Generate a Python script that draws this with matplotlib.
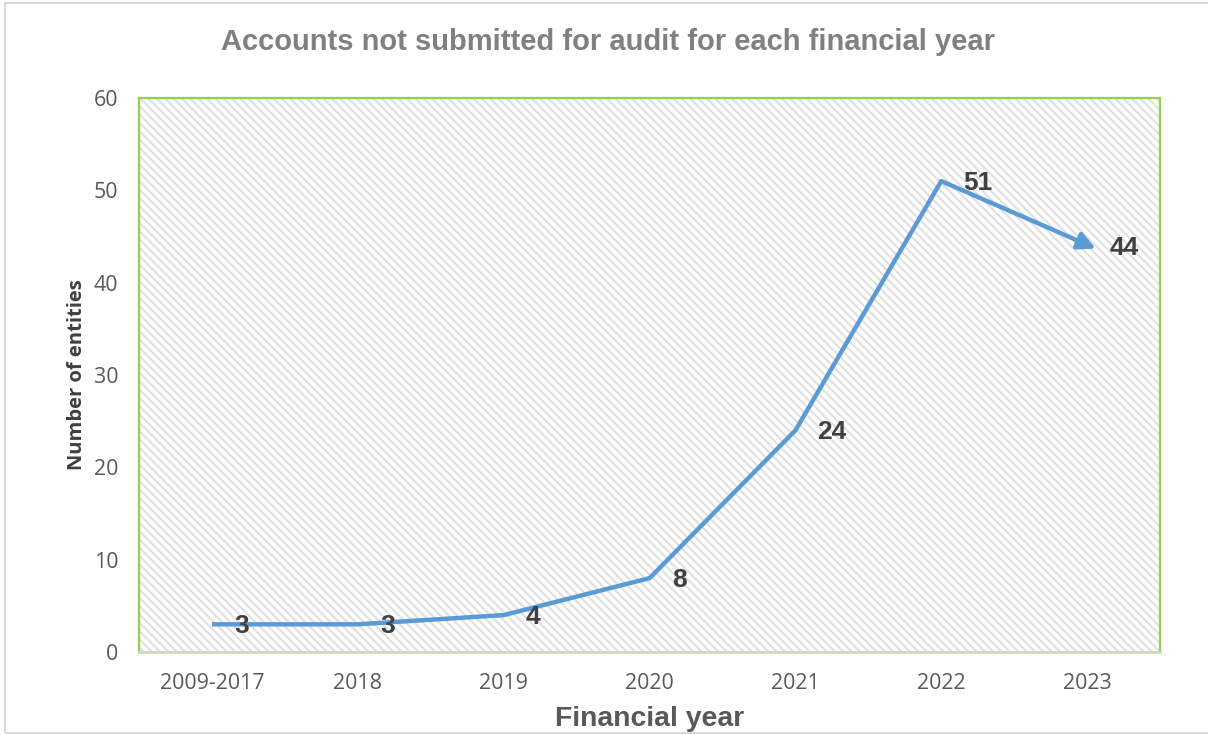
import matplotlib

matplotlib.use("Agg")

import matplotlib.pyplot as plt
from matplotlib.patches import Rectangle

YEARS = ["2009-2017", "2018", "2019", "2020", "2021", "2022", "2023"]
ENTITIES = [3, 3, 4, 8, 24, 51, 44]

LINE_COLOR = "#5B9BD5"
GREEN = "#92D050"
TEXT_GRAY = "#595959"


def main() -> None:
    plt.rcParams["hatch.linewidth"] = 1.5

    fig = plt.figure(figsize=(12.08, 7.35), dpi=100)
    ax = fig.add_axes([0.1151, 0.1129, 0.8452, 0.7538])

    # figure frame
    fig.patches.append(
        Rectangle((5 / 1208, 2 / 735), 1.2, 730 / 735, transform=fig.transFigure,
                  facecolor="none", edgecolor="#d9d9d9", linewidth=1.5, zorder=-5)
    )

    # hatched plot area
    ax.patch.set_facecolor("white")
    ax.add_patch(
        Rectangle((0, 0), 1, 1, transform=ax.transAxes, facecolor="white",
                  edgecolor="#e0e0e0", linewidth=0, hatch="\\\\\\\\", zorder=0)
    )

    x = list(range(len(YEARS)))
    ax.plot(x[:-1], ENTITIES[:-1], color=LINE_COLOR, linewidth=3.2,
            solid_capstyle="butt", solid_joinstyle="round", zorder=3)
    ax.annotate("", xy=(x[-1] + 0.06, ENTITIES[-1] - 0.3), xytext=(x[-2], ENTITIES[-2]),
                arrowprops=dict(arrowstyle="-|>", color=LINE_COLOR, lw=3.2,
                                mutation_scale=26, shrinkA=0, shrinkB=0),
                zorder=3)

    for xi, val in zip(x, ENTITIES):
        ax.annotate(str(val), xy=(xi, val), xytext=(16, -1.5),
                    textcoords="offset points", ha="left", va="center",
                    fontsize=19, fontweight="bold", color="#404040",
                    family="Liberation Sans", zorder=4)

    ax.set_xlim(-0.5, len(YEARS) - 0.5)
    ax.set_ylim(0, 60)
    ax.set_yticks(range(0, 61, 10))
    ax.set_xticks(x)
    ax.set_xticklabels(YEARS)
    ax.tick_params(axis="both", length=0, labelsize=15.4, labelcolor=TEXT_GRAY)
    ax.tick_params(axis="x", pad=15)
    ax.tick_params(axis="y", pad=15)
    for lab in ax.get_xticklabels() + ax.get_yticklabels():
        lab.set_family("Open Sans")

    for side in ("top", "left", "right"):
        ax.spines[side].set_color(GREEN)
        ax.spines[side].set_linewidth(1.6)
    ax.spines["bottom"].set_color("#cadcb8")
    ax.spines["bottom"].set_linewidth(2.0)

    ax.set_xlabel("Financial year", fontsize=20.4, fontweight="bold",
                  color=TEXT_GRAY, family="Liberation Sans", labelpad=9)
    ax.set_ylabel("Number of entities", fontsize=14.5, fontweight="bold",
                  color="#404040", family="Open Sans", labelpad=5)

    fig.text(0.5035, 0.943, "Accounts not submitted for audit for each financial year",
             ha="center", va="center", fontsize=21, fontweight="bold",
             color="#808080", family="Liberation Sans")

    fig.savefig("out.png", dpi=100, facecolor="white")


if __name__ == "__main__":
    main()
